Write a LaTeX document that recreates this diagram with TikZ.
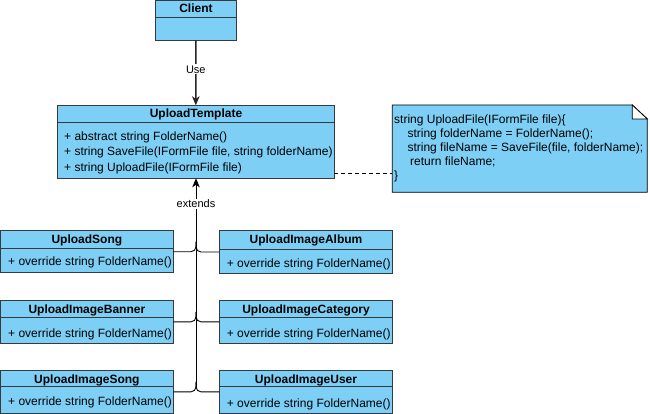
\documentclass[tikz,border=0pt]{standalone}
\usepackage{fontspec}
\setmainfont{Liberation Sans}
\usetikzlibrary{arrows.meta,calc}
\definecolor{boxblue}{RGB}{125,207,246}
\definecolor{edgecol}{RGB}{54,57,61}
\begin{document}
\begin{tikzpicture}[x=1pt,y=-1pt,
  cls/.style={draw=edgecol, fill=boxblue, line width=0.8pt, inner sep=0pt, outer sep=0pt},
  sepline/.style={draw=edgecol, line width=0.8pt},
  txt/.style={inner sep=0pt, text height=8.6pt, text depth=0pt, font=\fontsize{12}{14}\selectfont},
  ttl/.style={txt, font=\fontsize{12}{14}\selectfont\bfseries},
  mem/.style={txt, anchor=west},
  lbl/.style={fill=white, inner sep=1pt, font=\fontsize{11}{13}\selectfont},
  usearrow/.style={draw=black!85, line width=1.4pt, -{Stealth[length=9pt,width=7.5pt,inset=2.5pt]}},
  extarrow/.style={draw=black, line width=0.9pt, -{Stealth[length=9pt,width=7.5pt,inset=2.5pt]}},
  joinline/.style={draw=black, line width=0.9pt, rounded corners=5pt},
  notebody/.style={draw=black, fill=boxblue, line width=0.8pt},
  dashline/.style={draw=black, line width=0.8pt, dash pattern=on 4pt off 3pt}
]
\useasboundingbox (0,0) rectangle (650,414);

% Client
\node[cls, minimum width=80.3pt, minimum height=39.8pt] (client) at (195.85,20.4) {};
\draw[sepline] ($(client.north west)+(0,16.5)$) -- ($(client.north east)+(0,16.5)$);
\node[ttl] (clientt) at (196,8.5) {Client};

% UploadTemplate
\node[cls, minimum width=277pt, minimum height=73pt] (ut) at (195.8,141.8) {};
\draw[sepline] ($(ut.north west)+(0,16.7)$) -- ($(ut.north east)+(0,16.7)$);
\node[ttl] (utt) at (196,113.7) {UploadTemplate};
\node[mem] (m1) at (64,136) {+ abstract string FolderName()};
\node[mem] (m2) at (64,151.7) {+ string SaveFile(IFormFile file, string folderName)};
\node[mem] (m3) at (64,167.3) {+ string UploadFile(IFormFile file)};

% Note
\node[inner sep=0pt, outer sep=0pt, minimum width=255pt, minimum height=87.3pt] (note) at (519.8,148.65) {};
\draw[notebody] (note.north west) -- ($(note.north east)+(-15,0)$) -- ($(note.north east)+(0,14)$) -- (note.south east) -- (note.south west) -- cycle;
\draw[notebody, fill=white] ($(note.north east)+(-15,0)$) -- ($(note.north east)+(-15,14)$) -- ($(note.north east)+(0,14)$) -- cycle;
\node[mem] (n1) at (394,119) {string UploadFile(IFormFile file)\{};
\node[mem] (n2) at (407.3,133) {string folderName = FolderName();};
\node[mem] (n3) at (407.3,147) {string fileName = SaveFile(file, folderName);};
\node[mem] (n4) at (410,161) {return fileName;};
\node[mem] (n5) at (394,175) {\}};
\coordinate (utdash) at (334.3,173.3);
\draw[dashline] (utdash) -- (utdash -| note.west);

% Use arrow
\draw[usearrow] (client.south) -- (ut.north) node[lbl, midway, yshift=3.5pt] (uselbl) {Use};

% Subclasses
\node[cls, minimum width=172.8pt, minimum height=42pt] (s1) at (86.9,251.7) {};
\node[cls, minimum width=173.4pt, minimum height=42.6pt] (s2) at (306,252) {};
\node[cls, minimum width=172.8pt, minimum height=42.3pt] (s3) at (86.9,321.85) {};
\node[cls, minimum width=173.4pt, minimum height=42.3pt] (s4) at (306,321.85) {};
\node[cls, minimum width=172.8pt, minimum height=42.3pt] (s5) at (86.9,391.85) {};
\node[cls, minimum width=173.4pt, minimum height=42.3pt] (s6) at (306,391.85) {};
\foreach \b/\h in {s1/17.6,s2/18.3,s3/16.6,s4/16.6,s5/16,s6/16}{
  \draw[sepline] ($(\b.north west)+(0,\h)$) -- ($(\b.north east)+(0,\h)$);
}
\node[ttl] (s1t) at (86.9,239.5) {UploadSong};
\node[ttl] (s2t) at (306,239.5) {UploadImageAlbum};
\node[ttl] (s3t) at (86.9,309) {UploadImageBanner};
\node[ttl] (s4t) at (306,309) {UploadImageCategory};
\node[ttl] (s5t) at (86.9,378.7) {UploadImageSong};
\node[ttl] (s6t) at (306,378.7) {UploadImageUser};
\node[mem] (s1m) at (8,261.5) {+ override string FolderName()};
\node[mem] (s2m) at (226.7,262.7) {+ override string FolderName()};
\node[mem] (s3m) at (8,332.7) {+ override string FolderName()};
\node[mem] (s4m) at (226.7,332.7) {+ override string FolderName()};
\node[mem] (s5m) at (8,401.5) {+ override string FolderName()};
\node[mem] (s6m) at (226.7,402.7) {+ override string FolderName()};

% Extends trunk
\coordinate (tb) at (196,386.8);
\draw[extarrow] (tb) -- (tb |- ut.south) node[lbl, pos=0.877] (extlbl) {extends};
\foreach \b in {s1,s3,s5}{
  \draw[joinline] (\b.east) -- (\b.east -| tb) -- ++(0,-10);
}
\foreach \b in {s2,s4,s6}{
  \draw[joinline] (\b.west) -- (\b.west -| tb) -- ++(0,-10);
}
\end{tikzpicture}
\end{document}
